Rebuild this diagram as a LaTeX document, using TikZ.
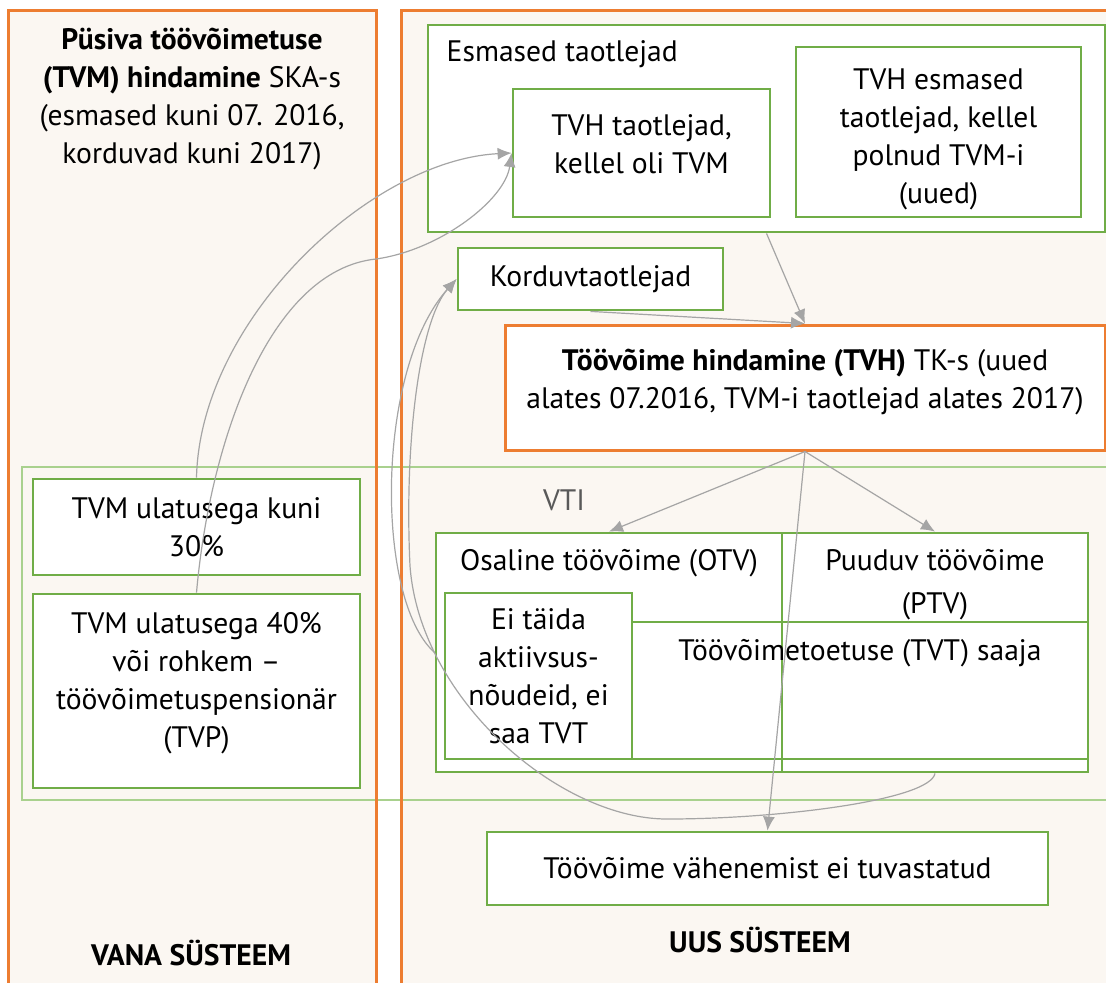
\documentclass[tikz,border=0pt]{standalone}
\usepackage{fontspec}
\setmainfont{PT Sans}
\usetikzlibrary{arrows.meta}

\definecolor{panelfill}{HTML}{FBF7F2}
\definecolor{panelorange}{HTML}{ED7D31}
\definecolor{boxgreen}{HTML}{70AD47}
\definecolor{vtigreen}{HTML}{A9D18E}
\definecolor{linkgray}{HTML}{A5A5A5}
\definecolor{vtitext}{HTML}{595959}

\begin{document}
\begin{tikzpicture}
	[x=0.5pt,y=-0.5pt,
	every node/.style={font=\fontsize{14.8}{19}\selectfont},
	green box/.style={shape=rectangle,draw=boxgreen,line width=1.4pt,fill=white,align=center},
	orange box/.style={shape=rectangle,draw=panelorange,line width=1.5pt,fill=white,align=center},
	panel/.style={draw=panelorange,line width=1.5pt},
	link/.style={draw=linkgray,line width=0.6pt,-{Latex[length=7pt,width=6pt]}}]
	\useasboundingbox (0,0) rectangle (1106,982);
	\clip (0,0) rectangle (1106,982);

	% vana ja uus susteem
	\fill[panelfill] (8,10) rectangle (376,1000);
	\fill[panelfill] (401,10) rectangle (1120,1000);
	\draw[vtigreen,line width=1.2pt] (22,467) rectangle (1120,800);
	\draw[panel] (8,1000) -- (8,10) -- (376,10) -- (376,1000);
	\draw[panel] (401,1000) -- (401,10) -- (1120,10);

	\node (vana title) at (192,99) [align=center] {\textbf{Püsiva töövõimetuse}\\\textbf{(TVM) hindamine} SKA-s\\(esmased kuni 07. 2016,\\korduvad kuni 2017)};
	\node (vana) at (191,953) {\textbf{VANA SÜSTEEM}};
	\node (uus) at (760,940) {\textbf{UUS SÜSTEEM}};
	\node (vti) at (564,500) [text=vtitext] {VTI};

	\node [green box,minimum width=163.5pt,minimum height=48pt] (kuni30) at (196.5,527) {TVM ulatusega kuni\\30\%};
	\node [green box,minimum width=163.5pt,minimum height=97pt,text depth=10.7pt] (tvp) at (196.5,691) {TVM ulatusega 40\%\\või rohkem –\\töövõimetuspensionär\\(TVP)};

	\node [green box,minimum width=338.5pt,minimum height=103.5pt,label={[anchor=west,xshift=6.5pt,yshift=-15.5pt]north west:Esmased taotlejad}] (esmased) at (766.5,128.5) {};
	\node [green box,minimum width=128.5pt,minimum height=64pt,text depth=9pt] (tvmoli) at (641.5,153) {TVH taotlejad,\\kellel oli TVM};
	\node [green box,minimum width=142.5pt,minimum height=85pt,text height=74.5pt] (tvhuued) at (938.5,132) {TVH esmased\\taotlejad, kellel\\polnud TVM-i\\(uued)};
	\node [green box,minimum width=132.5pt,minimum height=31pt] (korduv) at (590.5,279) {Korduvtaotlejad};
	\node [orange box,minimum width=300pt,minimum height=62.5pt,text depth=8.5pt] (tvh) at (805,387.5) {\textbf{Töövõime hindamine (TVH)} TK-s (uued\\alates 07.2016, TVM-i taotlejad alates 2017)};

	\node [green box,minimum width=173pt,minimum height=119.5pt,label={[anchor=center,yshift=-16pt]north:Osaline töövõime (OTV)}] (otv) at (609,652.5) {};
	\node [green box,minimum width=153pt,minimum height=119.5pt,label={[anchor=center,align=center,yshift=-26.5pt]north:Puuduv töövõime\\[2.5pt](PTV)}] (ptv) at (935,652.5) {};
	\node [green box,minimum width=93.5pt,minimum height=83pt] (eitaida) at (538.5,676) {Ei täida\\aktiivsus-\\nõudeid, ei\\saa TVT};
	\node [green box,fill=none,minimum width=228pt,minimum height=68.5pt,label={[anchor=center,yshift=-16.5pt]north:Töövõimetoetuse (TVT) saaja}] (tvt) at (860,690.5) {};
	\node [green box,minimum width=280.5pt,minimum height=36.5pt] (vahenemist) at (767.5,868.5) {Töövõime vähenemist ei tuvastatud};

	\path
	(esmased.south) edge[link] (tvh.north)
	(korduv.south) edge[link] (tvh.north)
	(tvh.south) edge[link] (otv.north)
	(tvh.south) edge[link] (ptv.north)
	(tvh.south) edge[link] (vahenemist.north)
	;
	\draw[link] (kuni30.north) .. controls (200,320) and (370,160) .. (tvmoli.west);
	\draw[link] (tvp.north) .. controls (210,440) and (270,270) .. (376,259) .. controls (440,250) and (505,200) .. (tvmoli.west);
	\draw[link] (ptv.south) .. controls (930,800) and (780,819) .. (667,819) .. controls (560,819) and (420,700) .. (410,566) .. controls (404,440) and (420,320) .. (korduv.west);
	\draw[link] (otv.west) .. controls (375,600) and (375,370) .. (korduv.west);

\end{tikzpicture}
\end{document}
